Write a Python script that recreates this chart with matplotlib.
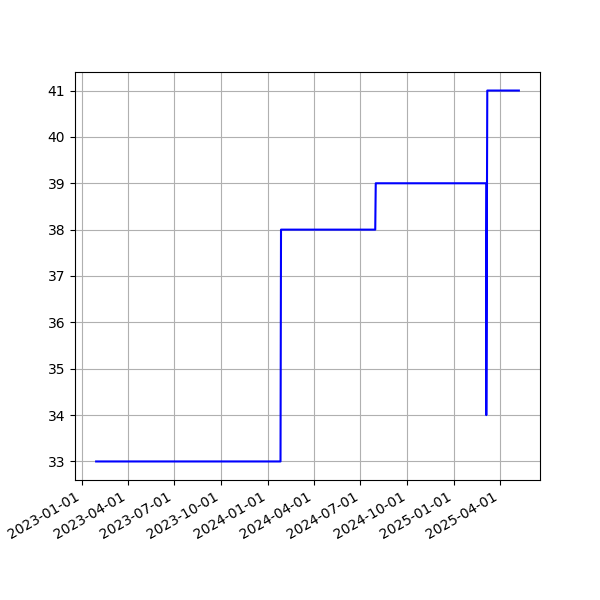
import matplotlib
matplotlib.use('Agg')
import matplotlib.pyplot as plt
import matplotlib.dates as mdates
import numpy as np

dates = ['2023-01-29', '2024-01-26', '2024-01-27', '2024-07-30', '2024-07-31',
         '2025-03-05', '2025-03-05', '2025-03-07', '2025-05-08']
values = [33, 33, 38, 38, 39, 39, 34, 41, 41]


def main():
	x = np.array(dates, dtype='datetime64[D]')
	fig, ax = plt.subplots(figsize=(6, 6), dpi=100)
	ax.plot(x, values, color='blue')
	ax.grid(True)
	ax.xaxis.set_major_locator(mdates.MonthLocator(bymonth=[1, 4, 7, 10]))
	ax.xaxis.set_major_formatter(mdates.DateFormatter('%Y-%m-%d'))
	fig.autofmt_xdate()
	fig.savefig('out.png')


if __name__ == '__main__':
	main()
